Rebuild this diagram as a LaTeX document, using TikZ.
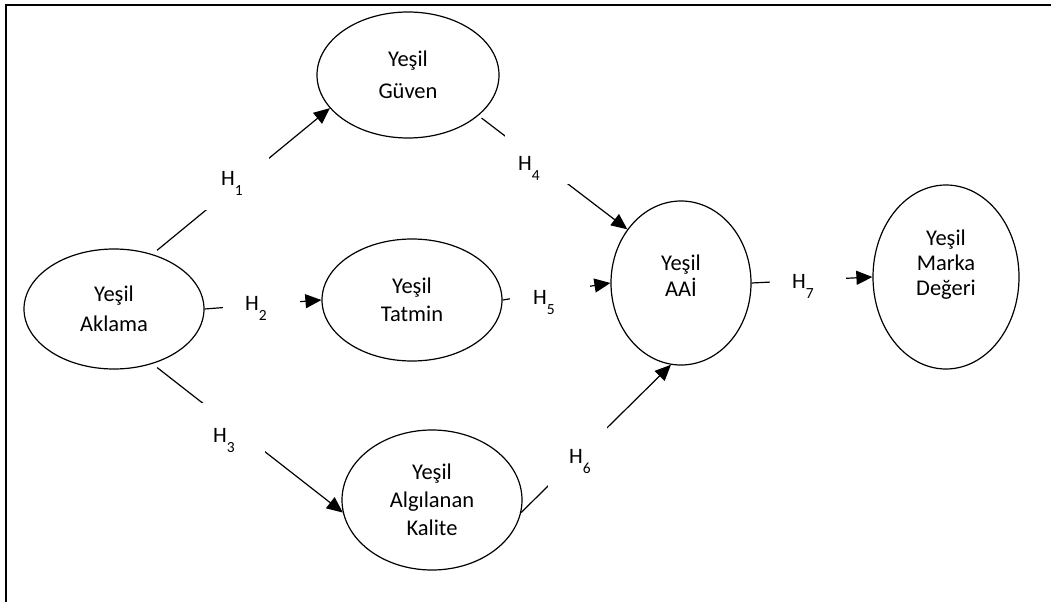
\documentclass[tikz,border=0pt]{standalone}
\usepackage{fontspec}
\setmainfont{Carlito}
\usetikzlibrary{shapes.geometric,arrows.meta}
\tikzset{
  oval/.style={ellipse, draw, line width=1.2pt, inner sep=0pt, align=center,
    font=\fontsize{22.5}{30}\selectfont},
  ovaltext/.style={align=center, inner sep=0pt},
  conn/.style={line width=1.2pt},
  arr/.style={conn, -{Triangle[length=16pt,width=14pt]}},
  gapbox/.style={fill=white, inner sep=0pt},
  hl/.style={inner sep=0pt, font=\fontsize{22}{26}\selectfont},
  frame/.style={line width=2.4pt}
}
\newcommand{\hyp}[1]{H\raisebox{-10.5pt}[0pt][0pt]{\fontsize{15.5}{17}\selectfont #1}}
\begin{document}
\begin{tikzpicture}[x=1pt,y=-1pt]
\useasboundingbox (0,0) rectangle (1051,602);
\draw[frame] (6,602) -- (6,5) -- (1051,5);

\node[oval, minimum width=180pt, minimum height=120pt] (akl) at (114,309) {Yeşil\\Aklama};
\node[oval, minimum width=182pt, minimum height=126pt,
      font=\fontsize{22.5}{32}\selectfont] (guv) at (408,75) {Yeşil\\Güven};
\node[oval, minimum width=180pt, minimum height=122pt,
      font=\fontsize{22.5}{28}\selectfont] (tat) at (412,300) {Yeşil\\Tatmin};
\node[oval, minimum width=180pt, minimum height=140pt,
      font=\fontsize{22.5}{28}\selectfont] (kal) at (432,500) {Yeşil\\Algılanan\\Kalite};
\node[oval, minimum width=140pt, minimum height=164pt,
      label={[ovaltext, yshift=7pt, font=\fontsize{22.5}{26}\selectfont]center:Yeşil\\AAİ}]
      (aai) at (681,283) {};
\node[oval, minimum width=146pt, minimum height=184pt,
      label={[ovaltext, yshift=12pt, font=\fontsize{22.5}{25}\selectfont]center:Yeşil\\Marka\\Değeri}]
      (mar) at (946,277) {};

% connectors
\draw[arr, shorten <=6pt] (akl.55) -- (guv.203);
\draw[arr] (akl.east) -- (tat.west);
\draw[arr, shorten <=6pt] (akl.-55) -- (kal.188);
\draw[arr, shorten <=4pt] (guv.-30) -- (aai.135);
\draw[arr] (tat.east) -- (aai.180);
\draw[arr] (kal.-8) -- (aai.263);
\draw[arr] (aai.east) -- (mar.west);

% labels (white boxes break the connectors)
\node[gapbox, minimum width=70pt, minimum height=60pt,
      label={[hl, xshift=-2pt, yshift=2pt]center:\hyp{1}}] (h1) at (234,180) {};
\node[gapbox, minimum width=77pt, minimum height=40pt,
      label={[hl, xshift=-5pt, yshift=2pt]center:\hyp{2}}] (h2) at (261,305) {};
\node[gapbox, minimum width=70pt, minimum height=54pt,
      label={[hl, xshift=-6pt, yshift=-5pt]center:\hyp{3}}] (h3) at (230,430) {};
\node[gapbox, minimum width=65pt, minimum height=54pt,
      label={[hl, xshift=-8pt, yshift=-6pt]center:\hyp{4}}] (h4) at (537,157) {};
\node[gapbox, minimum width=80pt, minimum height=40pt,
      label={[hl, xshift=-6pt, yshift=-4pt]center:\hyp{5}}] (h5) at (550,293) {};
\node[gapbox, minimum width=59pt, minimum height=60pt,
      label={[hl, xshift=3pt, yshift=1pt]center:\hyp{6}}] (h6) at (577,457) {};
\node[gapbox, minimum width=76pt, minimum height=40pt,
      label={[hl, xshift=-5pt, yshift=-2pt]center:\hyp{7}}] (h7) at (808,279) {};
\end{tikzpicture}
\end{document}
